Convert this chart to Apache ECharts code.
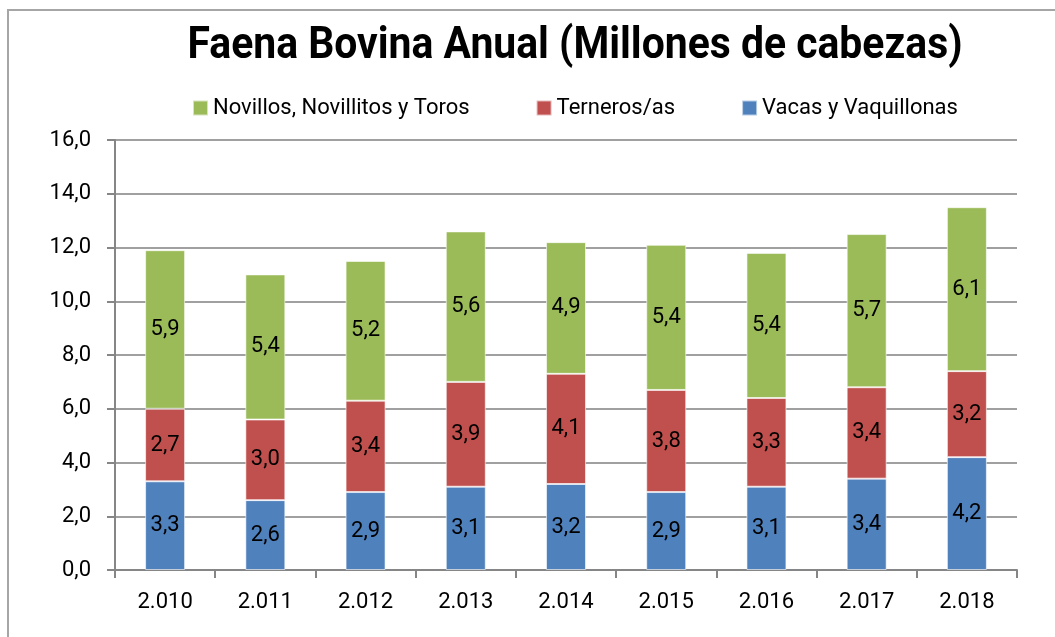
<!DOCTYPE html>
<html lang="es">
<head>
  <meta charset="utf-8">
  <script src="https://cdn.jsdelivr.net/npm/echarts@6/dist/echarts.min.js"></script>
</head>
<body style="margin: 0; background: #fff">
  <div id="container" style="width: 1055px; height: 637px"></div>
  <script type="text/javascript">
    // data
    var years = ['2.010', '2.011', '2.012', '2.013', '2.014', '2.015', '2.016', '2.017', '2.018'];
    var vacas = [3.3, 2.6, 2.9, 3.1, 3.2, 2.9, 3.1, 3.4, 4.2];
    var terneros = [2.7, 3.0, 3.4, 3.9, 4.1, 3.8, 3.3, 3.4, 3.2];
    var novillos = [5.9, 5.4, 5.2, 5.6, 4.9, 5.4, 5.4, 5.7, 6.1];
    var seriesNames = ['Novillos, Novillitos y Toros', 'Terneros/as', 'Vacas y Vaquillonas'];
    var titleText = 'Faena Bovina Anual (Millones de cabezas)';

    var fmt = function (v) { return v.toFixed(1).replace('.', ','); };

    // the original title uses a condensed bold face; squeeze Roboto bold to the same width
    var titleFont = 'bold 44px Roboto';
    var ctx = document.createElement('canvas').getContext('2d');
    ctx.font = titleFont;
    var titleScale = 775 / ctx.measureText(titleText).width;

    var myChart = echarts.init(document.getElementById('container'), null, { renderer: 'canvas' });

    function barSeries(name, data, color) {
      return {
        name: name,
        type: 'bar',
        stack: 'total',
        barWidth: 40,
        data: data,
        itemStyle: { color: color, borderColor: 'rgba(255,255,255,0.6)', borderWidth: 1 },
        label: {
          show: true,
          position: 'inside',
          color: '#000',
          fontFamily: 'Roboto',
          fontSize: 22,
          formatter: function (p) { return fmt(p.value); }
        }
      };
    }

    myChart.setOption({
      animation: false,
      graphic: [{
        type: 'rect',
        shape: { x: 8, y: 10, width: 1100, height: 700 },
        style: { fill: 'none', stroke: '#a6a6a6', lineWidth: 2 }
      }, {
        type: 'text',
        x: 575,
        y: 47,
        scaleX: titleScale,
        style: {
          text: titleText,
          font: titleFont,
          fill: '#000',
          textAlign: 'center',
          textVerticalAlign: 'middle'
        }
      }],
      legend: {
        data: seriesNames,
        left: 187,
        top: 92,
        itemWidth: 15,
        itemHeight: 15,
        itemGap: 66,
        icon: 'rect',
        textStyle: { fontFamily: 'Roboto', fontSize: 22, color: '#000' }
      },
      grid: { left: 115, right: 38, top: 140, bottom: 67 },
      xAxis: {
        type: 'category',
        data: years,
        axisLine: { lineStyle: { color: '#868686', width: 2 } },
        axisTick: { show: true, length: 8, lineStyle: { color: '#868686', width: 2 } },
        axisLabel: { fontFamily: 'Roboto', fontSize: 22, color: '#000', margin: 21 }
      },
      yAxis: {
        type: 'value',
        min: 0,
        max: 16,
        interval: 2,
        axisLine: { show: true, lineStyle: { color: '#868686', width: 2 } },
        axisTick: { show: true, length: 8, lineStyle: { color: '#868686', width: 2 } },
        splitLine: { lineStyle: { color: '#a0a0a0', width: 2 } },
        axisLabel: { fontFamily: 'Roboto', fontSize: 22, color: '#000', margin: 24, formatter: fmt }
      },
      series: [
        barSeries(seriesNames[2], vacas, '#4f81bd'),
        barSeries(seriesNames[1], terneros, '#c0504d'),
        barSeries(seriesNames[0], novillos, '#9bbb59')
      ]
    });
  </script>
</body>
</html>
